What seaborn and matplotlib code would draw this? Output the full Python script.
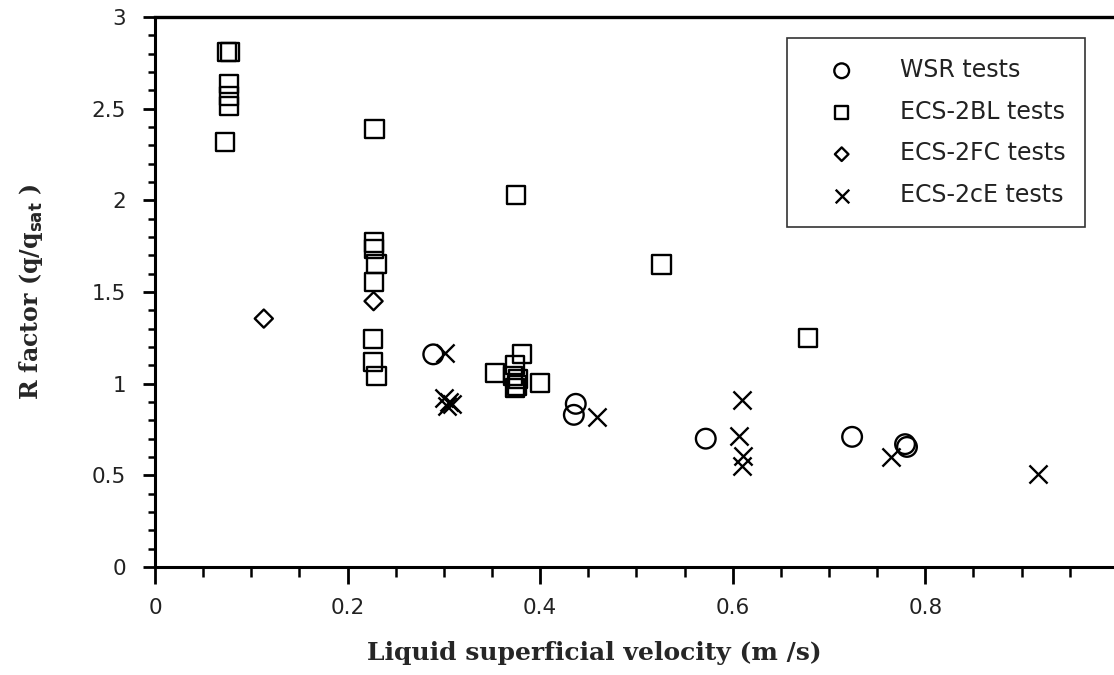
import matplotlib
matplotlib.use("Agg")
import matplotlib.pyplot as plt
import seaborn as sns
import pandas as pd
from matplotlib.ticker import MultipleLocator

# ---- data ----
wsr_x = [0.289, 0.437, 0.435, 0.572, 0.724, 0.779, 0.781]
wsr_y = [1.16, 0.89, 0.83, 0.70, 0.71, 0.67, 0.655]

bl_x = [0.075, 0.078, 0.077, 0.077, 0.077, 0.073,
        0.228, 0.227, 0.227, 0.230, 0.227, 0.226, 0.226, 0.230,
        0.375, 0.526, 0.678,
        0.353, 0.381, 0.374, 0.372, 0.377, 0.376, 0.374, 0.400]
bl_y = [2.81, 2.81, 2.635, 2.57, 2.515, 2.32,
        2.39, 1.77, 1.735, 1.655, 1.555, 1.245, 1.12, 1.04,
        2.03, 1.65, 1.25,
        1.06, 1.16, 1.10, 1.04, 1.025, 0.99, 0.975, 1.005]

fc_x = [0.113, 0.227]
fc_y = [1.355, 1.45]

ce_x = [0.301, 0.300, 0.305, 0.303, 0.308, 0.459, 0.610, 0.607, 0.611, 0.610, 0.764, 0.917]
ce_y = [1.17, 0.92, 0.90, 0.88, 0.89, 0.82, 0.91, 0.715, 0.606, 0.55, 0.60, 0.505]

labels = ["WSR tests", "ECS-2BL tests", "ECS-2FC tests", "ECS-2cE tests"]
x_ticks = [0, 0.2, 0.4, 0.6, 0.8]
x_ticklabels = ["0", "0.2", "0.4", "0.6", "0.8"]
y_ticks = [0, 0.5, 1, 1.5, 2, 2.5, 3]
y_ticklabels = ["0", "0.5", "1", "1.5", "2", "2.5", "3"]

sns.set_style("ticks")
plt.rcParams['font.family'] = ['DejaVu Sans']

fig = plt.figure(figsize=(11.14, 6.75), dpi=100)
ax = fig.add_axes([155 / 1114, 1 - 567 / 675, 1 - 155 / 1114, (567 - 17) / 675])

lw = 1.7
sns.scatterplot(data=pd.DataFrame({"x": wsr_x, "y": wsr_y}), x="x", y="y", ax=ax,
                marker="o", s=200, facecolors="none", edgecolor="black", linewidth=lw, label=labels[0])
sns.scatterplot(data=pd.DataFrame({"x": bl_x, "y": bl_y}), x="x", y="y", ax=ax,
                marker="s", s=170, facecolors="none", edgecolor="black", linewidth=lw, label=labels[1])
sns.scatterplot(data=pd.DataFrame({"x": fc_x, "y": fc_y}), x="x", y="y", ax=ax,
                marker="D", s=85, facecolors="none", edgecolor="black", linewidth=lw, label=labels[2])
sns.scatterplot(data=pd.DataFrame({"x": ce_x, "y": ce_y}), x="x", y="y", ax=ax,
                marker="x", s=170, color="black", linewidth=lw, label=labels[3])

ax.set_xlim(0, 0.996)
ax.set_ylim(0, 3)

ax.set_xticks(x_ticks)
ax.set_xticklabels(x_ticklabels)
ax.set_yticks(y_ticks)
ax.set_yticklabels(y_ticklabels)
ax.xaxis.set_minor_locator(MultipleLocator(0.05))
ax.yaxis.set_minor_locator(MultipleLocator(0.1))

ax.tick_params(axis="both", which="major", direction="out", length=12, width=2,
               labelsize=15.5, color="black", labelcolor="#222222")
ax.tick_params(axis="both", which="minor", direction="out", length=7, width=1.8, color="black")
ax.tick_params(axis="x", which="major", pad=10)
ax.tick_params(axis="y", which="major", pad=12, length=9)
ax.tick_params(axis="y", which="minor", length=5)

for side in ["left", "bottom", "top"]:
    ax.spines[side].set_visible(True)
    ax.spines[side].set_color("black")
ax.spines["left"].set_linewidth(2.2)
ax.spines["bottom"].set_linewidth(2.2)
ax.spines["top"].set_linewidth(2.4)
ax.spines["right"].set_visible(False)

ax.set_xlabel("Liquid superficial velocity (m /s)", fontsize=18, fontweight="bold",
              family="DejaVu Serif")
ax.xaxis.set_label_coords(0.458, -0.135)
ax.set_ylabel(r"R factor (q/q$_{\mathbf{sat}}$ )", fontsize=17, fontweight="bold",
              family="DejaVu Serif")
ax.yaxis.set_label_coords(-0.115, 0.5)

leg = ax.legend(loc="upper right", bbox_to_anchor=(0.970, 0.962), frameon=True, fancybox=False,
                fontsize=17, markerscale=0.75, labelspacing=0.75, borderpad=0.85,
                handlelength=2.9, handletextpad=1.0, borderaxespad=0, edgecolor="black")
leg.get_frame().set_linewidth(1.2)
for t in leg.get_texts():
    t.set_color("#222222")

fig.savefig("out.png", dpi=100)
